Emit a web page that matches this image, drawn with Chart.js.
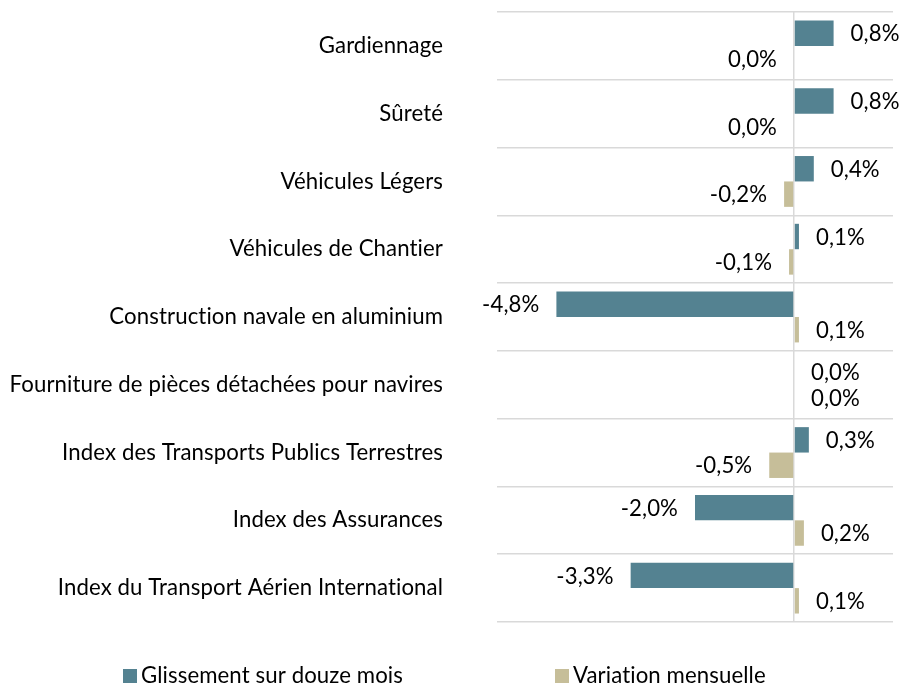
<!DOCTYPE html>
<html><head><meta charset="utf-8">
<script src="https://cdn.jsdelivr.net/npm/chart.js@4.4.1/dist/chart.umd.min.js"></script>
<style>html,body{margin:0;padding:0;background:#fff}#wrap{width:901px;height:684px;position:relative}</style>
</head>
<body>
<div id="wrap"><canvas id="chart"></canvas></div>
<script>
const categories = [
  'Gardiennage',
  'Sûreté',
  'Véhicules Légers',
  'Véhicules de Chantier',
  'Construction navale en aluminium',
  'Fourniture de pièces détachées pour navires',
  'Index des Transports Publics Terrestres',
  'Index des Assurances',
  'Index du Transport Aérien International'
];
const seriesNames = ['Glissement sur douze mois', 'Variation mensuelle'];
const glissement = [0.8, 0.8, 0.4, 0.1, -4.8, 0.0, 0.3, -2.0, -3.3];
const variation = [-0.0, -0.0, -0.2, -0.1, 0.1, 0.0, -0.5, 0.2, 0.1];
const xMin = -6, xMax = 2;

const FONT = '"Lato", "Open Sans", sans-serif';
const FSIZE = 22.2;
const COLORS = ['#548291', '#C6BE99'];

function isNeg(v){ return v < 0 || Object.is(v, -0); }
function fmt(v){ return (isNeg(v) && Math.abs(v) >= 0.05 ? '-' : '') + Math.abs(v).toFixed(1).replace('.', ',') + '%'; }

const noLigPlugin = {
  id: 'noLig',
  beforeDraw(chart) { try { chart.ctx.letterSpacing = '0.1px'; } catch (e) {} }
};

const labelPlugin = {
  id: 'valueLabels',
  afterDatasetsDraw(chart) {
    const ctx = chart.ctx;
    ctx.save();
    ctx.font = FSIZE + 'px ' + FONT;
    ctx.fillStyle = '#000';
    ctx.textBaseline = 'middle';
    chart.data.datasets.forEach((ds, di) => {
      const meta = chart.getDatasetMeta(di);
      meta.data.forEach((el, i) => {
        const v = ds.data[i];
        const gap = 17;
        if (isNeg(v)) {
          ctx.textAlign = 'right';
          ctx.fillText(fmt(v), Math.min(el.x, el.base) - gap, el.y + 1);
        } else {
          ctx.textAlign = 'left';
          ctx.fillText(fmt(v), Math.max(el.x, el.base) + gap, el.y + 1);
        }
      });
    });
    ctx.restore();
  }
};

const legendPlugin = {
  id: 'customLegend',
  afterDraw(chart) {
    const ctx = chart.ctx;
    const xs = [123, 555];
    const y = 676;
    ctx.save();
    ctx.font = FSIZE + 'px ' + FONT;
    ctx.textBaseline = 'middle';
    ctx.textAlign = 'left';
    chart.data.datasets.forEach((ds, i) => {
      ctx.fillStyle = ds.backgroundColor;
      ctx.fillRect(xs[i], y - 7, 14, 14);
      ctx.fillStyle = '#000';
      ctx.fillText(ds.label, xs[i] + 18, y);
    });
    ctx.restore();
  }
};

new Chart(document.getElementById('chart'), {
  type: 'bar',
  data: {
    labels: categories,
    datasets: [
      { label: seriesNames[0], data: glissement, backgroundColor: COLORS[0], categoryPercentage: 0.75, barPercentage: 1.0 },
      { label: seriesNames[1], data: variation, backgroundColor: COLORS[1], categoryPercentage: 0.75, barPercentage: 1.0 }
    ]
  },
  options: {
    indexAxis: 'y',
    responsive: true,
    maintainAspectRatio: false,
    animation: false,
    layout: { padding: { left: 0, right: 8, top: 12, bottom: 62 } },
    plugins: { legend: { display: false }, tooltip: { enabled: false } },
    scales: {
      x: {
        min: xMin, max: xMax,
        ticks: { display: false, stepSize: 1 },
        border: { display: false },
        grid: {
          drawTicks: false,
          lineWidth: 1.5,
          color: (c) => (c.tick && c.tick.value === 0) ? '#d9d9d9' : 'rgba(0,0,0,0)'
        },
        afterFit: (s) => { s.height = 0; s.paddingLeft = 0; s.paddingRight = 0; }
      },
      y: {
        border: { display: false },
        grid: { drawTicks: false, color: '#d9d9d9', lineWidth: 1.5, offset: true },
        ticks: { color: '#000', padding: 54, font: { family: FONT, size: FSIZE } },
        afterFit: (s) => { s.width = 497; s.paddingTop = 0; s.paddingBottom = 0; }
      }
    }
  },
  plugins: [noLigPlugin, labelPlugin, legendPlugin]
});
</script>
</body></html>
